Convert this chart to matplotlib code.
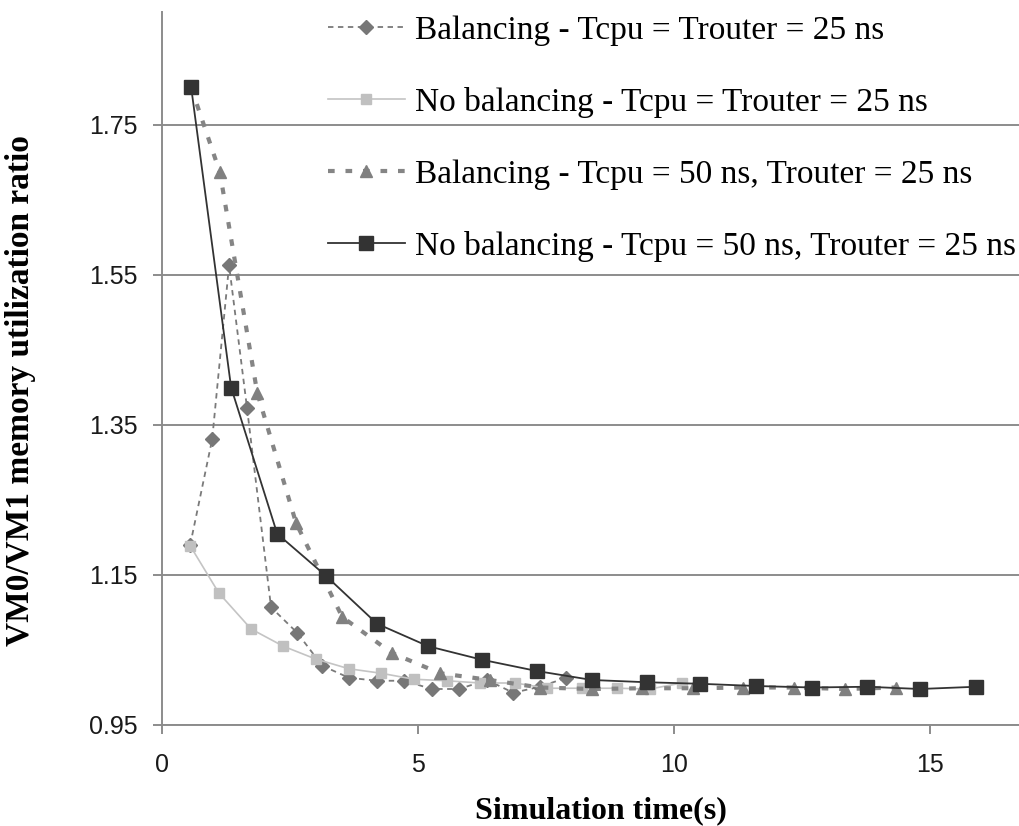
import matplotlib
matplotlib.use("Agg")
import matplotlib.pyplot as plt

# simulation time (s) and VM0/VM1 memory utilization ratio
t_bal_25 = [0.55, 0.98, 1.31, 1.66, 2.13, 2.64, 3.13, 3.65, 4.2, 4.73, 5.27, 5.8, 6.35, 6.86, 7.38, 7.9]
r_bal_25 = [1.19, 1.331, 1.563, 1.373, 1.107, 1.073, 1.029, 1.013, 1.009, 1.009, 0.998, 0.998, 1.010, 0.993, 1.001, 1.013]

t_nobal_25 = [0.55, 1.11, 1.74, 2.37, 3.0, 3.65, 4.28, 4.92, 5.56, 6.21, 6.9, 7.52, 8.2, 8.89, 9.53, 10.15]
r_nobal_25 = [1.189, 1.126, 1.078, 1.055, 1.038, 1.025, 1.019, 1.011, 1.009, 1.006, 1.006, 0.999, 0.999, 0.999, 0.998, 1.006]

t_bal_50 = [0.57, 1.13, 1.86, 2.62, 3.52, 4.49, 5.43, 6.4, 7.38, 8.4, 9.38, 10.37, 11.35, 12.35, 13.34, 14.34]
r_bal_50 = [1.80, 1.687, 1.393, 1.219, 1.094, 1.046, 1.019, 1.01, 1.0, 0.998, 0.999, 0.999, 1.0, 1.0, 0.998, 1.0]

t_nobal_50 = [0.57, 1.35, 2.25, 3.2, 4.2, 5.2, 6.25, 7.32, 8.4, 9.47, 10.5, 11.6, 12.7, 13.77, 14.8, 15.9]
r_nobal_50 = [1.80, 1.40, 1.205, 1.149, 1.085, 1.055, 1.037, 1.022, 1.01, 1.007, 1.005, 1.002, 1.0, 1.001, 0.998, 1.001]

labels = [
    "Balancing - Tcpu = Trouter = 25 ns",
    "No balancing - Tcpu = Trouter = 25 ns",
    "Balancing - Tcpu = 50 ns, Trouter = 25 ns",
    "No balancing - Tcpu = 50 ns, Trouter = 25 ns",
]
yticks = [0.95, 1.15, 1.35, 1.55, 1.75]
xticks = [0, 5, 10, 15]

W, H = 1020, 826
fig = plt.figure(figsize=(W / 100, H / 100), dpi=100)
x0, x1, y0, y1 = 162, 1020, 12, 725
ax = fig.add_axes([x0 / W, 1 - y1 / H, (x1 - x0) / W, (y1 - y0) / H])

grid_c = "#8c8c8c"
ax.plot(t_bal_25, r_bal_25, color="#7a7a7a", lw=1.3, ls=(0, (3, 2.5)),
        marker="D", ms=7, mfc="#777777", mec="#777777", label=labels[0])
ax.plot(t_nobal_25, r_nobal_25, color="#c4c4c4", lw=1.2,
        marker="s", ms=7.5, mfc="#c0c0c0", mec="#c0c0c0", label=labels[1])
ax.plot(t_bal_50, r_bal_50, color="#858585", lw=3, ls=(0, (1.6, 2.6)),
        marker="^", ms=9, mfc="#808080", mec="#808080", label=labels[2])
ax.plot(t_nobal_50, r_nobal_50, color="#333333", lw=1.3,
        marker="s", ms=9.5, mfc="#333333", mec="#333333", label=labels[3])

ax.set_xlim(0, (x1 - x0) / 51.2)
ax.set_ylim(0.95, 0.95 + (y1 - y0) / 750)
ax.set_xticks(xticks)
ax.set_yticks(yticks)
ax.set_yticklabels(["%.2f" % v for v in yticks])
ax.grid(axis="y", color=grid_c, lw=1.4)
ax.set_axisbelow(True)
for s in ["top", "right"]:
    ax.spines[s].set_visible(False)
for s in ["left", "bottom"]:
    ax.spines[s].set_color(grid_c)
    ax.spines[s].set_linewidth(1.4)
ax.tick_params(axis="both", color=grid_c, width=1.4, length=6.5, direction="out",
               labelcolor="#1a1a1a", labelsize=18)
ax.tick_params(axis="y", pad=11)
ax.tick_params(axis="x", pad=14)
for lab in ax.get_xticklabels() + ax.get_yticklabels():
    lab.set_fontfamily("Liberation Sans")

ax.set_xlabel("Simulation time(s)", family="Liberation Serif", weight="bold", fontsize=23)
ax.xaxis.set_label_coords((601 - x0) / (x1 - x0), (y1 - 796) / (y1 - y0))
ax.set_ylabel("VM0/VM1 memory utilization ratio", family="Liberation Serif",
              weight="bold", fontsize=24)
ax.yaxis.set_label_coords((36 - x0) / (x1 - x0), (y1 - 391) / (y1 - y0))

leg = fig.legend(loc="upper left", bbox_to_anchor=(328 / W, 1 - 15 / H), frameon=False,
                 prop={"family": "Liberation Serif", "size": 24}, handlelength=2.3,
                 handletextpad=0.3, labelspacing=1.24, borderpad=0, borderaxespad=0)

fig.savefig("out.png", dpi=100)
